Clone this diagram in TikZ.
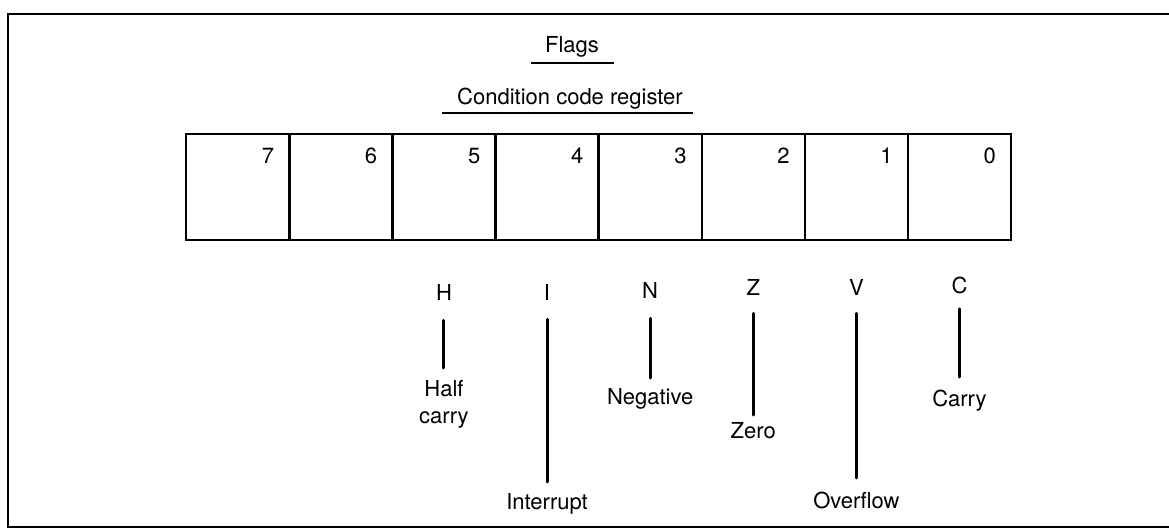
\documentclass[tikz,border=0pt]{standalone}
\usepackage{fontspec}
\setmainfont{TeX Gyre Heros}
\usetikzlibrary{positioning}
\tikzset{
	cell/.style     ={rectangle, draw=black, line width=1.2pt, minimum width=51.55pt, minimum height=52.75pt, inner sep=0pt, anchor=north west},
	bitnum/.style   ={anchor=north east, inner sep=0pt},
	title/.style    ={inner sep=0pt},
	uline/.style    ={line width=1.3pt},
	flag/.style     ={inner sep=0pt},
	flagname/.style ={anchor=north, inner sep=0pt, align=center},
	flagline/.style ={line width=1.5pt, line cap=round},
}
\begin{document}
\begin{tikzpicture}[x=0.5pt, y=-0.5pt, font=\fontsize{11}{13.5}\selectfont]
	\useasboundingbox (0,0) rectangle (1169,530);
	% frame, open on the right
	\draw[line width=1.1pt] (1169,14) -- (8,14) -- (8,527) -- (1169,527);
	% titles
	\node[title] (flags) at (572,47) {Flags};
	\draw[uline] (531,63) -- (614,63);
	\node[title] (ccr) at (570,99) {Condition code register};
	\draw[uline] (442,113) -- (693,113);
	% register cells 7 ... 0
	\foreach \i in {0,...,7}{
		\node[cell] (b\i) at ({185+(7-\i)*103.1},133) {};
		\node[bitnum] (n\i) at ([xshift=-8pt, yshift=-7.5pt]b\i.north east) {\i};
	}
	% flags and their names
	\foreach \i/\ly/\l/\dy/\d/\s/\e in {5/292/H/380/{Half\\carry}/10pt/6pt,
	                                    4/292/I/493/Interrupt/9.5pt/5.5pt,
	                                    3/290/N/388/Negative/10pt/5pt,
	                                    2/287/Z/422/Zero/9pt/3.5pt,
	                                    1/287/V/492/Overflow/9pt/7pt,
	                                    0/285/C/390/Carry/7.5pt/6.5pt}{
		\node[flag] (f\i) at (b\i.center |- 0,\ly) {\l};
		\node[flagname] (d\i) at (b\i.center |- 0,\dy) {\d};
		\draw[flagline, shorten <=\s, shorten >=\e] (f\i) -- (d\i);
	}
\end{tikzpicture}
\end{document}
